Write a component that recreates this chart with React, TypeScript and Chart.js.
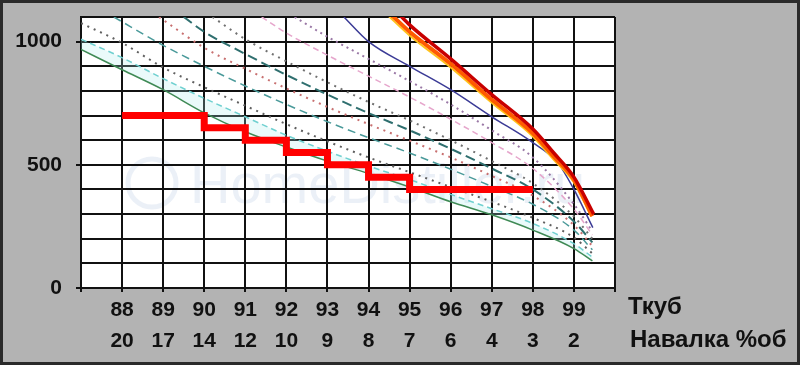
import React, { useEffect, useRef } from "react";
import { Chart, registerables } from "chart.js";

Chart.register(...registerables);

// Axis labels
const tkubValues = [88, 89, 90, 91, 92, 93, 94, 95, 96, 97, 98, 99];
const tkubLabels = ["88", "89", "90", "91", "92", "93", "94", "95", "96", "97", "98", "99"];
const navalkaLabels = ["20", "17", "14", "12", "10", "9", "8", "7", "6", "4", "3", "2"];
const yLabelValues = [0, 500, 1000];

// Series ([x, y] pairs)
const limitStep = [[88, 700], [90, 650], [91, 600], [92, 550], [93, 500], [94, 450], [95, 400], [98, 400]];
const greenLine = [[87, 968], [88, 886], [89, 805], [90, 711], [91, 634], [92, 572], [93, 515], [94, 465], [95, 410], [96, 350], [97, 297], [98, 235], [99, 160], [99.45, 110]];
const cyanDash1 = [[87, 1010], [88, 935], [89, 850], [90, 770], [91, 695], [92, 620], [93, 555], [94, 495], [95, 440], [96, 380], [97, 322], [98, 262], [99, 180], [99.45, 125]];
const grayDot1 = [[87, 1075], [88, 995], [89, 895], [90, 815], [91, 740], [92, 665], [93, 595], [94, 530], [95, 470], [96, 410], [97, 350], [98, 285], [99, 205], [99.45, 140]];
const tealDash1 = [[87.8, 1100], [89, 985], [90, 900], [91, 820], [92, 745], [93, 675], [94, 610], [95, 548], [96, 482], [97, 412], [98, 340], [99, 235], [99.45, 155]];
const redDot = [[88.9, 1100], [90, 975], [91, 890], [92, 810], [93, 735], [94, 665], [95, 598], [96, 530], [97, 455], [98, 375], [99, 255], [99.45, 170]];
const tealDash2 = [[89.5, 1100], [90, 1040], [91, 950], [92, 865], [93, 785], [94, 710], [95, 640], [96, 565], [97, 485], [98, 400], [99, 270], [99.45, 185]];
const grayDot2 = [[90.2, 1100], [91, 1010], [92, 920], [93, 835], [94, 755], [95, 680], [96, 600], [97, 515], [98, 425], [99, 290], [99.45, 200]];
const pinkDash = [[91.4, 1100], [92, 1035], [93, 945], [94, 860], [95, 775], [96, 685], [97, 590], [98, 485], [99, 320], [99.45, 215]];
const purpleDot = [[92.2, 1100], [93, 1020], [94, 930], [95, 840], [96, 745], [97, 640], [98, 530], [99, 340], [99.45, 230]];
const blueLine = [[93.4, 1100], [94, 1000], [95, 900], [96, 805], [97, 695], [98, 590], [98.6, 510], [99, 400], [99.46, 245]];
const yellowCurve = [[94.45, 1110], [95, 1025], [96, 895], [97, 752], [98, 615], [98.5, 522], [99, 428], [99.42, 290]];
const orangeCurve = [[94.55, 1110], [95, 1040], [96, 910], [97, 765], [98, 628], [98.5, 535], [99, 440], [99.45, 292]];
const darkRedCurve = [[94.75, 1110], [95, 1068], [96, 930], [97, 785], [98, 645], [98.5, 550], [99, 450], [99.48, 300]];

const FONT = '"Liberation Sans", Arial, sans-serif';

const pts = (arr: number[][]) => arr.map(([x, y]) => ({ x, y }));

const line = (data: number[][], color: string, width: number, dash: number[] = [], extra: any = {}) => ({
  data: pts(data),
  borderColor: color,
  backgroundColor: color,
  borderWidth: width,
  borderDash: dash,
  pointRadius: 0,
  pointHoverRadius: 0,
  cubicInterpolationMode: "monotone",
  fill: false,
  clip: 0,
  ...extra,
});

const framePlugin = {
  id: "frame",
  beforeDraw(chart: any) {
    const { ctx, chartArea: a, width, height } = chart;
    ctx.save();
    ctx.fillStyle = "#b3b3b3";
    ctx.fillRect(0, 0, width, height);
    ctx.fillStyle = "#ffffff";
    ctx.fillRect(a.left, a.top, a.right - a.left, a.bottom - a.top);
    // faint watermark
    ctx.fillStyle = "rgba(110,150,195,0.14)";
    ctx.font = `56px ${FONT}`;
    ctx.textBaseline = "alphabetic";
    ctx.fillText("HomeDistiller.ru", 190, 203);
    ctx.strokeStyle = "rgba(110,150,195,0.14)";
    ctx.lineWidth = 5;
    ctx.beginPath();
    ctx.arc(152, 183, 24, 0, Math.PI * 2);
    ctx.stroke();
    ctx.restore();
  },
  afterDraw(chart: any) {
    const { ctx, width, height } = chart;
    ctx.save();
    ctx.fillStyle = "#111111";
    ctx.font = `bold 24px ${FONT}`;
    ctx.textBaseline = "middle";
    ctx.textAlign = "left";
    ctx.fillText("Ткуб", 628, 307);
    ctx.fillText("Навалка %об", 630, 340);
    ctx.strokeStyle = "#2a2a2a";
    ctx.lineWidth = 3;
    ctx.strokeRect(1.5, 1.5, width - 3, height - 3);
    ctx.restore();
  },
};

export default function App() {
  const canvasRef = useRef<HTMLCanvasElement | null>(null);

  useEffect(() => {
    document.body.style.margin = "0";
    const canvas = canvasRef.current;
    if (!canvas) return;
    const chart = new Chart(canvas, {
      type: "line",
      data: {
        datasets: [
          line(limitStep, "#ff0000", 7, [], { stepped: "before", cubicInterpolationMode: "default", tension: 0, borderCapStyle: "butt" }),
          line(darkRedCurve, "#c80000", 3.5),
          line(orangeCurve, "#ff5a00", 4),
          line(yellowCurve, "#ffc21a", 2),
          line(blueLine, "#3b3b96", 1.5),
          line(purpleDot, "#9a78a6", 2, [2, 4]),
          line(pinkDash, "#e6a6cc", 1.5, [6, 4]),
          line(grayDot2, "#707070", 2, [2, 5]),
          line(tealDash2, "#2f6f6f", 2, [10, 5]),
          line(redDot, "#c87070", 2, [2, 5]),
          line(tealDash1, "#4a9a9a", 1.5, [8, 5]),
          line(grayDot1, "#606060", 2, [2, 5]),
          line(cyanDash1, "#6fd0d0", 1.5, [6, 4]),
          line(greenLine, "#3f8a55", 1.5, [], { fill: { target: 12 }, backgroundColor: "rgba(170,236,236,0.25)" }),
        ],
      },
      options: {
        responsive: false,
        animation: false,
        events: [],
        layout: { padding: { left: 0, top: 17, right: 185, bottom: 0 } },
        plugins: {
          legend: { display: false },
          tooltip: { enabled: false },
        },
        scales: {
          x: {
            type: "linear",
            min: 87,
            max: 100,
            afterFit: (s: any) => {
              s.height = 77;
              s.paddingLeft = 0;
              s.paddingRight = 0;
            },
            grid: {
              color: "#111111",
              lineWidth: 2,
              tickLength: 4,
              tickColor: "#111111",
            },
            border: { color: "#111111", width: 2 },
            ticks: {
              stepSize: 1,
              autoSkip: false,
              maxRotation: 0,
              padding: 2,
              color: "#111111",
              font: { family: FONT, size: 21, weight: "bold", lineHeight: 1.5 },
              callback: (v: any) => {
                const i = tkubValues.indexOf(Number(v));
                return i >= 0 ? [tkubLabels[i], navalkaLabels[i]] : "";
              },
            },
          },
          y: {
            type: "linear",
            min: 0,
            max: 1100,
            afterFit: (s: any) => {
              s.width = 81;
              s.paddingTop = 0;
              s.paddingBottom = 0;
            },
            grid: {
              color: "#111111",
              lineWidth: 2,
              tickLength: 5,
              tickColor: (c: any) => (yLabelValues.includes(c.tick?.value) ? "#111111" : "rgba(0,0,0,0)"),
            },
            border: { color: "#111111", width: 2 },
            ticks: {
              stepSize: 100,
              autoSkip: false,
              padding: 14,
              color: "#111111",
              font: { family: FONT, size: 21, weight: "bold" },
              callback: (v: any) => (yLabelValues.includes(Number(v)) ? String(v) : ""),
            },
          },
        },
      },
      plugins: [framePlugin],
    } as any);
    return () => chart.destroy();
  }, []);

  return (
    <div style={{ width: 800, height: 365 }}>
      <canvas ref={canvasRef} width={800} height={365} style={{ display: "block", width: 800, height: 365 }} />
    </div>
  );
}
